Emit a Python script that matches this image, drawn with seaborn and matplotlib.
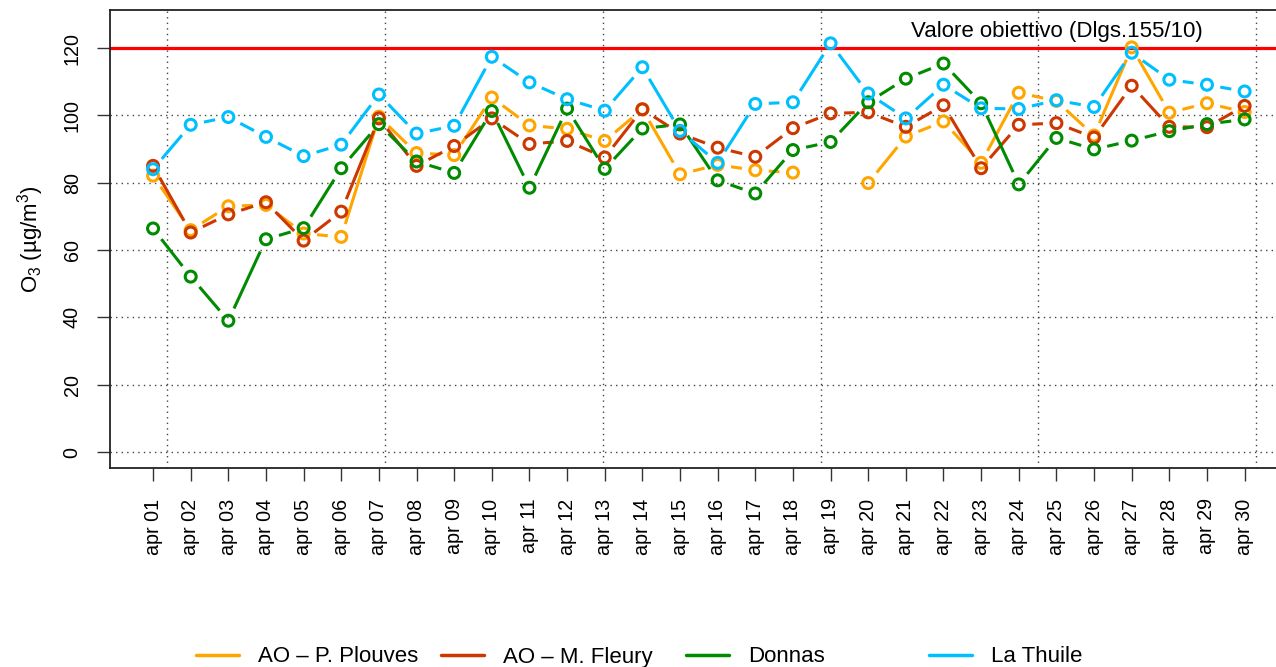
import numpy as np
import pandas as pd
import matplotlib
matplotlib.use('Agg')
import matplotlib.pyplot as plt
from matplotlib.collections import LineCollection
from matplotlib.lines import Line2D
import seaborn as sns

# daily O3 values (ug/m3), april
days = [f"apr {d:02d}" for d in range(1, 31)]
plouves = [82.1, 65.9, 73.0, 73.4, 64.9, 63.9, 99.6, 88.8, 88.2, 105.3,
           97.0, 96.0, 92.4, 101.8, 82.5, 85.3, 83.7, 83.0, np.nan, 79.9,
           93.7, 98.2, 85.9, 106.7, 104.3, 94.0, 120.2, 100.8, 103.6, 101.0]
fleury = [85.0, 65.2, 70.6, 74.2, 62.8, 71.4, 99.1, 85.0, 90.9, 99.1,
          91.5, 92.4, 87.5, 101.8, 94.6, 90.4, 87.7, 96.2, 100.6, 100.9,
          96.6, 103.0, 84.3, 97.2, 97.7, 93.4, 108.8, 96.6, 96.5, 102.8]
donnas = [66.4, 52.1, 39.0, 63.2, 66.5, 84.3, 97.4, 86.3, 82.9, 101.3,
          78.5, 102.0, 84.1, 96.1, 97.3, 80.7, 76.8, 89.7, 92.1, 103.9,
          110.9, 115.4, 103.6, 79.5, 93.3, 89.9, 92.5, 95.3, 97.4, 98.8]
thuile = [84.0, 97.2, 99.5, 93.6, 87.9, 91.3, 106.2, 94.6, 96.9, 117.4,
          109.8, 104.8, 101.4, 114.3, 95.4, 85.9, 103.4, 103.9, 121.4, 106.5,
          99.1, 109.1, 102.1, 101.9, 104.5, 102.5, 118.6, 110.6, 109.1, 107.1]
stations = ['AO – P. Plouves', 'AO – M. Fleury', 'Donnas', 'La Thuile']
colors = ['#FFA500', '#CD3700', '#008B00', '#00BFFF']
target = 120

df = pd.DataFrame({'day': days, 'AO – P. Plouves': plouves, 'AO – M. Fleury': fleury,
                   'Donnas': donnas, 'La Thuile': thuile})
df['idx'] = np.arange(len(days))

sns.set_style('ticks')
plt.rcParams['font.family'] = ['Liberation Sans', 'DejaVu Sans']
plt.rcParams['mathtext.fontset'] = 'custom'
plt.rcParams['mathtext.rm'] = 'Liberation Sans'
plt.rcParams['mathtext.it'] = 'Liberation Sans:italic'
plt.rcParams['text.color'] = 'black'
plt.rcParams['axes.labelcolor'] = 'black'
plt.rcParams['xtick.color'] = 'black'
plt.rcParams['ytick.color'] = 'black'

W, H = 1276, 667
fig = plt.figure(figsize=(W / 100, H / 100), dpi=100)
ax = fig.add_axes([110 / W, 1 - 468 / H, (1280 - 110) / W, (468 - 10) / H])
ax.set_xlim(-1.144, 29.94)
ax.set_ylim(-4.75, 131.3)

# grid like R's grid(): dotted
for v in range(0, 121, 20):
    ax.axhline(v, color='#444444', lw=1, ls=(0, (1, 3)), zorder=1)
for v in 0.372 + 5.787 * np.arange(6):
    ax.axvline(v, color='#444444', lw=1, ls=(0, (1, 3)), zorder=1)

ax.axhline(target, color='red', lw=2.3, zorder=2)
ax.text(24.0, 125, 'Valore obiettivo (Dlgs.155/10)', ha='center', va='center',
        fontsize=16, color='black')

# lines with gaps around points (R type="b")
gap = 13.5
for i, (name, col) in enumerate(zip(stations, colors)):
    pts = ax.transData.transform(np.column_stack([df['idx'], df[name]]))
    segs = []
    for p0, p1 in zip(pts[:-1], pts[1:]):
        if np.isnan(p0).any() or np.isnan(p1).any():
            continue
        d = p1 - p0
        L = np.hypot(*d)
        if L <= 2 * gap:
            continue
        a = p0 + d / L * gap
        b = p1 - d / L * gap
        segs.append(ax.transData.inverted().transform(np.array([a, b])))
    ax.add_collection(LineCollection(segs, colors=col, linewidths=2.2,
                                     capstyle='butt', zorder=3 + 2 * i))
    sns.scatterplot(data=df, x='idx', y=name, ax=ax, marker='o', s=62,
                    facecolor='none', edgecolor=col, linewidth=2.2,
                    zorder=4 + 2 * i, legend=False)

ax.set_xticks(df['idx'])
ax.set_xticklabels(days, rotation=90, fontsize=14.2)
ax.set_yticks(range(0, 121, 20))
ax.set_yticklabels([str(v) for v in range(0, 121, 20)], rotation=90,
                   va='center', fontsize=14.2)
ax.tick_params(axis='both', direction='out', length=9.4, width=1, color='#333333')
ax.tick_params(axis='x', pad=12.5)
ax.tick_params(axis='y', pad=11)
ax.set_xlabel('')
ax.set_ylabel('O$_3$ (µg/m$^3$)', fontsize=16, labelpad=12)
for s in ax.spines.values():
    s.set_color('#222222')
    s.set_linewidth(1.3)

# legend entries placed like the R horizontal legend
leg_x = [196, 441, 686, 929]
for name, col, x in zip(stations, colors, leg_x):
    h = Line2D([], [], color=col, lw=2.5)
    lg = fig.legend([h], [name], loc='center left', bbox_to_anchor=(x / W, 1 - 657 / H),
                    frameon=False, fontsize=16, borderpad=0, borderaxespad=0,
                    handlelength=1.95, handletextpad=0.85)
    lg.set_zorder(10)

fig.savefig('out.png', dpi=100)
